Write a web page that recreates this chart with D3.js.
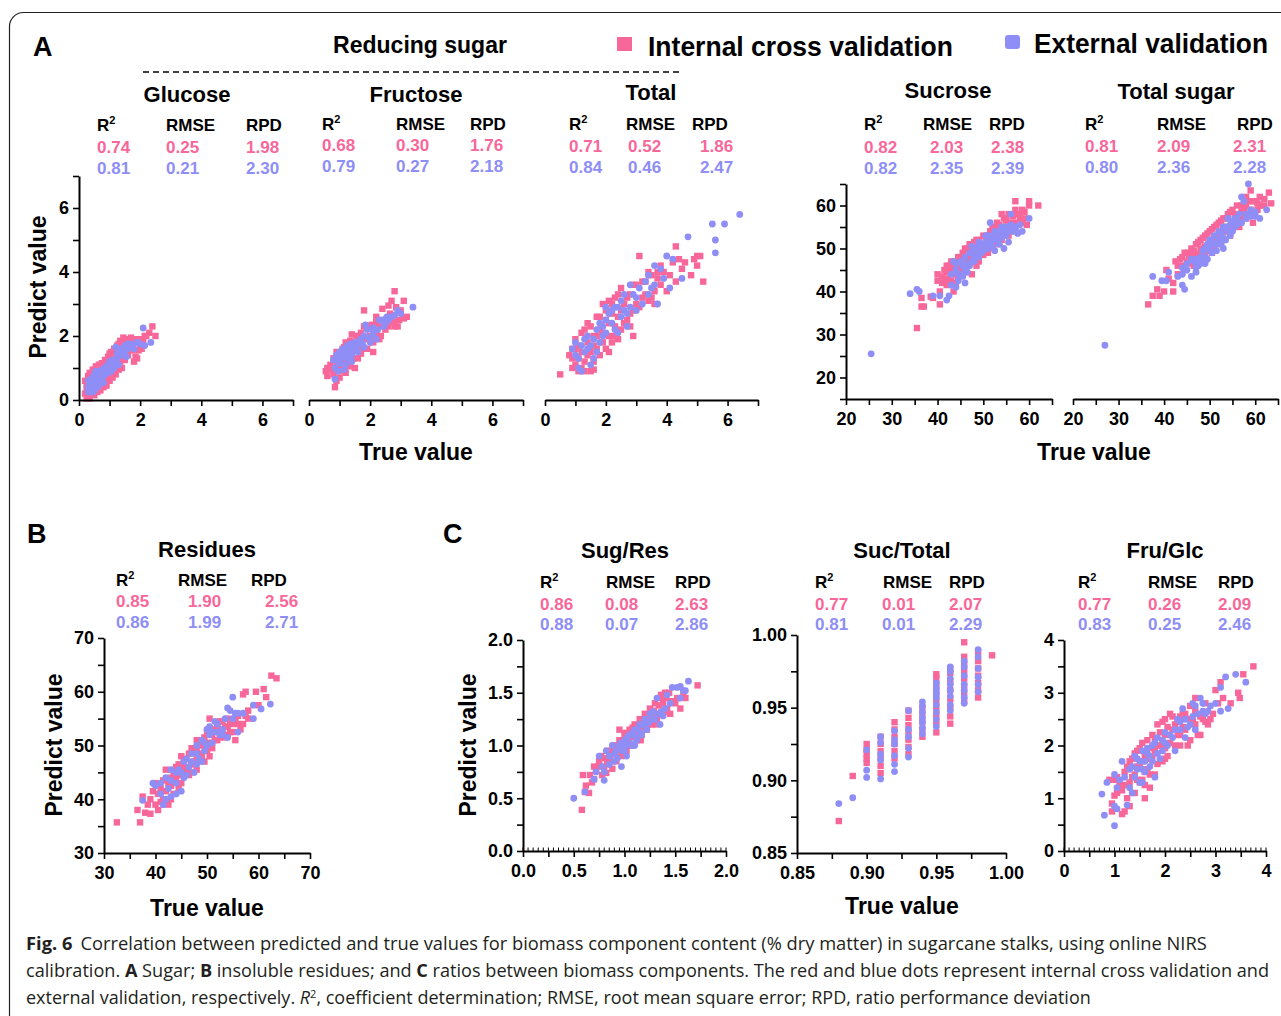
<!DOCTYPE html>
<html>
<head>
<meta charset="utf-8">
<title>Fig. 6 NIRS calibration</title>
<style>
  body { margin: 0; background: #fff; }
  svg text { font-family: "Liberation Sans", Arimo, Arial, sans-serif; }
  .axis path, .axis line { stroke: #000; }
  .axis path { stroke-width: 2; }
  .axis line { stroke-width: 1.6; }
  .axis text { font-size: 18px; font-weight: bold; fill: #000; }
</style>
</head>
<body>
<svg id="fig" width="1281" height="1016"></svg>
<script src="https://d3js.org/d3.v7.min.js"></script>
<script>
// ---- data: [true value, predicted value] ----
const glucoseInt = [[0.2,0.6],[0.25,0.35],[0.3,0.1],[0.35,0.05],[0.4,0.2],[0.5,0.9],[0.6,1.0],[0.7,1.1],[0.8,1.0],[0.9,1.2],[1.0,1.45],[1.1,1.3],[1.2,1.5],[1.3,1.75],[1.4,1.8],[1.5,1.9],[1.6,1.9],[1.7,1.95],[1.8,1.9],[1.9,1.8],[2.0,1.7],[2.1,1.85],[2.2,2.0],[2.3,2.1],[2.4,2.3],[2.5,2.0],[1.9,1.3],[1.8,1.2],[1.5,1.25],[1.3,0.95],[1.2,0.8],[1.0,0.6],[0.9,0.45],[0.8,0.4],[0.7,0.3],[0.6,0.25],[0.5,0.15],[1.1,0.7],[1.4,1.0],[1.6,1.4],[0.4,0.8],[0.3,0.55],[0.6,0.7],[0.7,0.85],[1.0,1.0],[1.2,1.15],[0.5,0.5],[0.8,0.7],[1.7,1.6],[2.0,1.9],[2.15,2.0],[0.35,0.4],
  [0.25,0.5],[0.3,0.75],[0.35,0.85],[0.45,0.95],[0.55,1.05],[0.65,1.1],[0.75,1.15],[0.85,1.25],[0.95,1.35],[1.05,1.5],[1.15,1.6],[1.25,1.7],[1.35,1.85],[1.45,1.95],[0.3,0.3],[0.4,0.45],[0.55,0.35],[0.65,0.45],[0.75,0.55],[0.85,0.6],[0.95,0.75],[1.05,0.85],[1.15,0.95],[1.25,1.05],[1.35,1.2],[1.45,1.3],[1.55,1.5],[1.65,1.6],[1.75,1.55],[1.85,1.35],[1.95,1.55],[2.05,1.6],[0.2,0.2],[0.25,0.05],[0.45,0.6],[0.6,0.55]];
const glucoseExt = [[0.3,0.4],[0.35,0.6],[0.4,0.5],[0.45,0.7],[0.5,0.8],[0.55,0.6],[0.6,0.75],[0.65,0.55],[0.7,0.9],[0.75,0.7],[0.8,0.85],[0.85,1.0],[0.9,0.95],[0.95,1.1],[1.0,1.2],[1.05,0.9],[1.1,1.25],[1.15,1.0],[1.2,1.65],[1.25,1.3],[1.3,1.1],[1.35,1.6],[1.4,1.4],[1.45,1.5],[1.5,1.7],[1.55,1.35],[1.6,1.6],[1.7,1.75],[1.8,1.6],[1.9,1.8],[2.1,2.25],[2.15,1.7],[2.35,1.8],[0.5,0.3],[0.6,0.4],[0.8,0.55],[1.3,1.4],[0.4,0.3],[0.45,0.25],[1.0,0.9],
  [0.3,0.6],[0.35,0.35],[0.4,0.65],[0.5,0.55],[0.55,0.9],[0.6,0.6],[0.65,0.8],[0.7,0.65],[0.75,0.95],[0.8,0.75],[0.85,0.8],[0.9,1.05],[0.95,0.85],[1.0,1.05],[1.1,1.1],[1.2,1.2],[1.25,1.45],[1.4,1.55],[1.5,1.45],[1.6,1.75],[1.75,1.7],[2.0,1.75],[0.5,0.45],[0.7,0.5],[0.3,0.25]];
const fructoseInt = [[0.55,0.9],[0.6,0.75],[0.7,1.1],[0.8,1.3],[0.85,0.4],[0.9,0.6],[0.9,1.5],[1.0,1.0],[1.0,0.7],[1.1,1.6],[1.1,1.2],[1.2,0.85],[1.2,1.8],[1.3,1.4],[1.3,1.05],[1.4,2.05],[1.4,1.5],[1.5,1.7],[1.5,1.0],[1.6,2.0],[1.6,1.3],[1.7,1.8],[1.8,2.3],[1.8,2.8],[1.9,1.6],[2.0,2.0],[2.0,2.3],[2.1,1.5],[2.2,2.4],[2.3,1.9],[2.4,2.85],[2.5,2.2],[2.6,2.95],[2.7,2.6],[2.7,3.1],[2.8,3.4],[2.8,2.3],[2.9,2.3],[3.0,2.8],[3.1,3.1],[3.1,2.55],[3.2,2.6],[2.5,2.5],[1.7,1.45],[2.2,2.1],[1.3,1.7],[1.0,1.3],[2.6,2.3],[1.15,1.45],
  [0.6,1.0],[0.75,0.95],[0.8,0.8],[0.9,1.1],[0.95,1.35],[1.05,1.45],[1.1,0.95],[1.15,1.65],[1.25,1.5],[1.25,1.25],[1.35,1.85],[1.35,1.2],[1.45,1.75],[1.45,1.3],[1.55,1.55],[1.55,2.0],[1.65,1.7],[1.7,2.1],[1.75,1.6],[1.9,1.9],[1.95,2.25],[2.05,2.35],[2.1,1.8],[2.2,2.6],[2.3,2.3],[2.35,2.0],[2.45,2.4],[2.55,2.55],[2.65,2.7],[2.75,2.45],[2.85,2.9],[2.95,2.5],[1.0,0.9],[1.2,1.3]];
const fructoseExt = [[0.8,1.25],[0.85,0.65],[0.9,1.4],[1.0,1.15],[1.0,1.5],[1.1,1.3],[1.1,1.6],[1.2,1.45],[1.2,1.1],[1.3,1.6],[1.3,1.3],[1.35,1.75],[1.4,1.4],[1.5,1.55],[1.5,1.8],[1.6,1.5],[1.7,1.9],[1.8,1.65],[1.85,2.35],[1.9,2.2],[2.0,1.8],[2.1,2.05],[2.2,1.9],[2.3,2.5],[2.4,2.5],[2.5,2.4],[2.6,2.5],[2.7,2.6],[2.9,2.8],[3.0,2.7],[3.4,2.9],[1.15,0.95],[1.6,1.75],[2.1,2.25],
  [0.85,1.0],[0.95,1.2],[1.05,1.35],[1.15,1.5],[1.25,1.35],[1.25,1.7],[1.35,1.5],[1.45,1.65],[1.55,1.65],[1.65,1.85],[1.75,1.75],[1.8,2.0],[1.95,1.95],[2.05,2.2],[2.25,2.2],[2.45,2.3],[2.55,2.6],[2.8,2.65],[0.95,0.9],[1.4,1.2]];
const totalInt = [[0.5,0.8],[0.8,1.4],[0.9,1.6],[1.0,1.1],[1.0,1.9],[1.1,0.9],[1.2,1.5],[1.2,2.1],[1.3,1.2],[1.3,0.9],[1.4,1.8],[1.4,2.4],[1.5,1.5],[1.6,2.0],[1.6,1.2],[1.7,2.6],[1.7,1.6],[1.8,2.2],[1.8,1.4],[1.9,3.0],[1.9,1.8],[2.0,2.5],[2.0,1.6],[2.1,3.1],[2.1,2.0],[2.2,2.7],[2.2,1.8],[2.3,3.2],[2.3,2.3],[2.4,2.6],[2.5,3.5],[2.5,2.2],[2.6,3.0],[2.7,2.5],[2.8,3.3],[2.9,2.8],[2.9,2.0],[3.0,3.6],[3.1,2.9],[3.1,4.5],[3.2,3.2],[3.3,3.7],[3.4,3.1],[3.5,3.9],[3.6,3.4],[3.7,4.0],[3.8,3.6],[3.9,4.0],[4.0,3.4],[4.3,4.8],[4.3,3.7],[4.5,4.1],[4.6,4.3],[4.8,3.9],[5.0,4.2],[5.1,4.5],[5.2,3.7],[5.0,4.5],[1.5,0.9],[2.4,1.9],[2.8,2.3],[3.6,3.0],[1.1,1.3],[0.9,1.0],
  [1.1,1.7],[1.2,1.0],[1.3,2.2],[1.4,1.4],[1.5,2.3],[1.6,1.7],[1.7,2.0],[1.8,2.6],[1.9,2.1],[2.0,2.8],[2.1,2.4],[2.2,3.0],[2.3,2.0],[2.4,3.3],[2.5,2.8],[2.6,2.4],[2.7,3.2],[2.8,2.7],[2.9,3.6],[3.0,3.0],[3.2,3.7],[3.3,3.3],[3.4,4.0],[3.5,3.2],[3.7,3.8],[3.8,4.2],[4.1,3.9],[4.2,4.3],[4.4,4.4],[4.9,4.4],[1.0,1.6],[0.9,1.3],[1.6,0.95],[2.1,1.5]];
const totalExt = [[0.9,1.6],[1.0,1.4],[1.1,1.0],[1.2,0.9],[1.3,1.5],[1.4,2.0],[1.5,1.7],[1.5,1.1],[1.6,1.3],[1.7,2.2],[1.8,1.8],[1.9,2.3],[2.0,2.1],[2.1,2.7],[2.2,2.4],[2.3,2.9],[2.4,2.1],[2.5,3.1],[2.5,2.6],[2.6,2.8],[2.7,2.3],[2.8,2.9],[2.9,3.3],[3.0,2.8],[3.2,3.0],[3.3,3.7],[3.4,3.3],[3.5,3.5],[3.6,4.2],[3.7,3.0],[3.9,3.8],[4.0,4.5],[4.1,3.5],[4.5,3.8],[4.7,5.1],[5.5,5.5],[5.9,5.5],[5.6,5.0],[5.6,4.6],[6.4,5.8],[1.3,1.9],[2.0,2.9],
  [1.0,1.8],[1.1,1.3],[1.2,1.7],[1.4,1.6],[1.6,1.9],[1.7,1.5],[1.8,2.4],[1.9,2.0],[2.0,2.5],[2.2,2.8],[2.3,2.2],[2.4,2.9],[2.6,3.3],[2.7,2.7],[2.8,3.6],[3.0,3.2],[3.1,3.5],[3.4,3.9],[3.6,3.6],[3.8,4.1],[4.2,4.4]];
const sucroseInt = [[35.5,31.5],[36.5,36.5],[37,36.5],[36.5,38.5],[38.5,38.8],[39,38.5],[40.5,37],[40.5,40],[41,42],[40,44],[40,42.5],[41.5,45],[42,43],[42.5,46],[43,44],[43.5,40],[44,47],[44.5,43],[45,48],[45.5,45],[46,50],[46.5,47],[47,51],[47.5,44],[48,49],[48.5,52],[49,47],[49.5,50],[50,53],[50.5,49],[51,51.5],[51.5,54],[52,50],[52.5,53],[53,56],[53.5,52],[54,58],[54.5,55],[55,57],[55.5,53],[56,56],[57,59],[57,61],[58,58],[58.5,56],[59,58.5],[60,60],[60,61],[62,60],[59.5,55.5],[44,45],[47,48],[50,51],[53,54],[56,55],[42,44.5],[48.5,46],[45,46.5],[51,49],[54,52],
  [41,43.5],[41.5,42.5],[42,46],[42.5,44.5],[43,47],[43.5,45.5],[44,42],[44.5,48],[45,45.5],[45.5,49],[46,46],[46.5,50],[47,47],[47.5,49.5],[48,51.5],[48.5,48],[49,52],[49.5,51],[50,48.5],[50.5,52.5],[51,53],[51.5,50.5],[52,54.5],[52.5,55],[53,52],[53.5,55.5],[54,53.5],[54.5,57],[55,55],[55.5,58],[56,54],[56.5,57.5],[57,56],[58,57],[58.5,59],[59,57],[43,42.5],[45,47.5],[47,49],[49,49],[51,52],[53,51],[55,56.5],[57.5,58],[46,44.5],[48,47.5],[50,50],[52,52],[44,44],[42,41.5]];
const sucroseExt = [[25.5,25.5],[34,39.5],[35.5,40.5],[36,40],[39,39],[40.5,39],[42,38],[42.5,39],[43,41.5],[43.5,47],[44,45],[45,44],[45.5,46],[46,42],[46,48],[47,46],[47.5,50.5],[48,48],[49,51.5],[49.5,49],[50,51],[51,50],[51.5,56],[52,52],[52.5,49.5],[53,53.5],[53.5,51],[54,55],[54.5,50],[55,53],[55.5,51.5],[56,58],[57,55],[57.5,53.5],[58.5,54],[60,57],[48,47],[50.5,53],[44.5,42.5],[46.5,44.5],
  [43,44],[44,46.5],[44.5,44],[45,47],[45.5,43.5],[46.5,46.5],[47,49],[47.5,47],[48,50],[48.5,49],[49,48],[49.5,51],[50,49.5],[50.5,51.5],[51,53],[51.5,51.5],[52,50.5],[52.5,54],[53,52],[53.5,54],[54,52.5],[54.5,54],[55,55],[55.5,54],[56,55.5],[56.5,54],[57,54.5],[58,55.5],[44,41],[46,45],[49,50.5],[52,53]];
const totalSugarInt = [[36.5,37],[37.5,39],[38.5,40.5],[39,39],[40,40],[40.5,45],[42,40],[42,42],[42.5,47],[43,46],[44,48],[44.5,45],[45,49],[45.5,47],[46,50],[46.5,46],[47,51],[47.5,48],[48,52],[48.5,47.5],[49,53],[49.5,50],[50,54],[50.5,49],[51,55],[51.5,52],[52,56],[52.5,51],[53,57],[53.5,54],[54,58],[54.5,53],[55,59],[55.5,56],[56,58],[56.5,55],[57,60],[58,62],[58.5,58],[59,63.5],[59.5,56],[60,61],[60.5,59],[61,62],[62,60],[63,63],[63.5,60.5],[58,57],[50,51],[46,48.5],[53,55],[48,50],
  [41,43],[43,44],[43.5,47.5],[44,46],[44.5,49],[45,47],[45.5,48.5],[46,46.5],[46.5,49.5],[47,48.5],[47.5,51.5],[48,49],[48.5,52.5],[49,50.5],[49.5,53.5],[50,52],[50.5,54.5],[51,50.5],[51.5,55.5],[52,53],[52.5,56.5],[53,54],[53.5,57],[54,55],[54.5,58.5],[55,56],[55.5,57.5],[56,60],[56.5,58],[57,57],[57.5,59],[58,60],[58.5,61],[59,59],[59.5,61],[60,58],[61,60],[62,61.5],[46,47],[49,49],[52,51.5],[55,54.5],[57,58.5],[60.5,60.5]];
const totalSugarExt = [[27,27.5],[37.5,43.5],[39.5,42.5],[40.5,42.5],[41,44.5],[43,43.5],[44,41.5],[44.5,40.5],[44,44],[45,46.5],[46,43.5],[46.5,47],[47,44.5],[47.5,46],[48,48],[48.5,47],[49,50],[49.5,47.5],[50,52],[50.5,49],[51,51],[51.5,49.5],[52,54],[52.5,51],[53,55],[53.5,52],[54,57],[54.5,53],[55,56],[55.5,55],[56,57],[57,62],[57.5,61],[58,58],[58.5,65],[59,59],[60,57.5],[62.5,59],[53,50],[49,46.5],
  [44,45.5],[45,45],[46,47.5],[47,47.5],[48,46.5],[48.5,49.5],[49,48],[49.5,51],[50,49.5],[50.5,51.5],[51,53],[51.5,51],[52,52],[52.5,53.5],[53,52.5],[53.5,55],[54,54],[54.5,55.5],[55,54],[55.5,57],[56,55.5],[56.5,58],[57,56],[58,57],[59,57.5],[60,58.5],[61,57],[50,50.5],[47,45.5]];
const residuesInt = [[32.5,35.7],[36.5,38],[37,35.7],[37.5,40.5],[38,37.5],[38.5,39],[39,37.3],[39.5,41.5],[40,39],[40,43],[40.5,38],[41,42],[41.5,40],[42,45.5],[42.5,39],[42.5,43],[43,44],[43.5,41],[44,46],[44.5,42],[45,48],[45,44.5],[45.5,46],[46,47.5],[46.5,44.5],[47,49.5],[47.5,47],[48,51],[48,45.5],[48.5,48.5],[49,50],[49.5,47],[50,52.5],[50,49],[50.5,55],[51,50.5],[51.5,53],[52,51],[52.5,54.5],[53,53],[53.5,51.5],[54,55],[54.5,52.5],[55,54],[55.5,51],[56,55.5],[56.5,53],[57,59.5],[57.5,60],[58,55],[59.5,60],[60,57.5],[61,60.5],[61.5,59],[62.5,63],[63.5,62.5],[44,43.5],[47,46.5],[52,52.5],[54,53.5],[46,45],
  [39,40],[40.5,41],[41,39.5],[41.5,43.5],[42,41.5],[43,42.5],[43.5,45],[44,44.5],[44.5,46.5],[45,43],[45.5,47.5],[46,46],[46.5,48.5],[47,45],[47.5,49],[48,47.5],[48.5,50.5],[49,48],[49.5,51.5],[50,50.5],[50.5,48],[51,52],[51.5,51],[52,53.5],[52.5,51.5],[53,54.5],[53.5,53.5],[54,52],[54.5,54.5],[55,52.5],[55.5,55],[56,54],[57,54],[57.5,55.5],[58,56.5],[43,40],[45,46],[48,49],[51,49.5],[53,52]];
const residuesExt = [[37.5,39.8],[39.5,43],[40,42.5],[41,41],[41.5,39],[42,44],[42.5,42],[43,45.5],[43,40.5],[44,43],[44.5,45.5],[45,41.5],[45.5,47],[46,44.5],[46.5,46],[47,48.5],[47.5,45],[48,50],[48.5,47.5],[49,51],[49.5,49],[50,53],[50.5,52],[51,50.5],[51.5,54.5],[52,52.5],[52.5,52],[53,53],[54,57],[54,51.5],[55,59],[55.5,56],[56,52.5],[57,56],[59,57.5],[59,55],[60.5,56.8],[62.3,57.7],[45.5,44],[48,46.5],
  [41,43],[42,40],[43,43.5],[44,45],[45,45],[46,47.5],[47,47],[48,48.5],[49,47],[49.5,50.5],[50,50],[50.5,53.5],[51,52.5],[52,54],[53,52],[53.5,55],[54.5,56.5],[55,55],[56,56],[44,41]];
const sugResInt = [[0.58,0.39],[0.59,0.72],[0.61,0.56],[0.62,0.62],[0.65,0.55],[0.66,0.72],[0.68,0.65],[0.7,0.8],[0.72,0.76],[0.75,0.85],[0.78,0.72],[0.8,0.88],[0.82,0.74],[0.85,0.92],[0.88,0.78],[0.9,1.0],[0.92,0.85],[0.95,1.05],[0.97,0.9],[1.0,1.1],[1.02,0.95],[1.05,1.15],[1.07,1.0],[1.1,1.2],[1.12,1.05],[1.15,1.25],[1.17,1.1],[1.2,1.3],[1.22,1.15],[1.25,1.35],[1.27,1.2],[1.3,1.4],[1.32,1.25],[1.35,1.45],[1.37,1.3],[1.4,1.5],[1.42,1.35],[1.45,1.3],[1.5,1.4],[1.55,1.35],[1.6,1.45],[1.72,1.57],[0.95,1.15],[1.05,1.0],[1.18,1.17],[1.28,1.28],[0.83,0.84],[1.13,1.12],[1.38,1.4],[0.98,1.0],
  [0.7,0.68],[0.74,0.8],[0.77,0.9],[0.8,0.8],[0.83,0.95],[0.86,0.86],[0.89,0.95],[0.91,0.92],[0.93,1.0],[0.96,0.95],[0.99,1.05],[1.01,1.12],[1.03,1.05],[1.06,1.08],[1.08,1.17],[1.11,1.1],[1.14,1.18],[1.16,1.05],[1.19,1.22],[1.21,1.25],[1.24,1.2],[1.26,1.3],[1.29,1.33],[1.31,1.2],[1.34,1.38],[1.36,1.48],[1.39,1.32],[1.41,1.45],[1.44,1.5],[1.47,1.42],[1.52,1.45],[1.58,1.5],[0.87,0.95],[1.0,0.98],[1.2,1.2]];
const sugResExt = [[0.5,0.5],[0.61,0.56],[0.7,0.68],[0.75,0.9],[0.78,0.8],[0.8,0.67],[0.82,0.95],[0.85,0.82],[0.88,1.0],[0.9,0.85],[0.92,0.95],[0.95,1.0],[0.97,0.8],[1.0,1.05],[1.02,0.9],[1.05,1.1],[1.07,1.0],[1.1,1.15],[1.12,1.05],[1.15,1.2],[1.17,1.1],[1.2,1.25],[1.22,1.15],[1.25,1.3],[1.3,1.25],[1.32,1.45],[1.35,1.2],[1.4,1.35],[1.42,1.48],[1.45,1.4],[1.52,1.55],[1.55,1.45],[1.6,1.52],[1.63,1.61],[1.58,1.52],[1.0,0.95],[1.1,1.0],
  [0.72,0.75],[0.8,0.75],[0.85,0.9],[0.9,0.92],[0.93,0.88],[0.96,1.02],[0.98,0.95],[1.01,1.0],[1.03,1.08],[1.06,1.02],[1.08,1.12],[1.11,1.08],[1.13,1.15],[1.16,1.12],[1.18,1.2],[1.21,1.18],[1.24,1.22],[1.27,1.25],[1.28,1.32],[1.33,1.3],[1.36,1.32],[1.38,1.28],[1.47,1.55],[1.55,1.56]];
const sucTotalInt = [[0.88,0.872],[0.89,0.903],[0.90,0.912],[0.90,0.915],[0.90,0.918],[0.90,0.921],[0.90,0.925],[0.91,0.905],[0.91,0.910],[0.91,0.915],[0.91,0.920],[0.91,0.925],[0.91,0.930],[0.92,0.915],[0.92,0.920],[0.92,0.925],[0.92,0.930],[0.92,0.935],[0.92,0.940],[0.93,0.918],[0.93,0.923],[0.93,0.928],[0.93,0.933],[0.93,0.938],[0.93,0.943],[0.93,0.948],[0.94,0.930],[0.94,0.935],[0.94,0.940],[0.94,0.945],[0.94,0.950],[0.95,0.933],[0.95,0.940],[0.95,0.945],[0.95,0.950],[0.95,0.955],[0.95,0.960],[0.95,0.965],[0.95,0.970],[0.95,0.973],[0.96,0.939],[0.96,0.944],[0.96,0.950],[0.96,0.956],[0.96,0.962],[0.96,0.968],[0.96,0.974],[0.96,0.977],[0.97,0.955],[0.97,0.960],[0.97,0.965],[0.97,0.970],[0.97,0.975],[0.97,0.980],[0.97,0.985],[0.97,0.995],[0.98,0.957],[0.98,0.962],[0.98,0.967],[0.98,0.972],[0.98,0.977],[0.98,0.982],[0.98,0.988],[0.99,0.986]];
const sucTotalExt = [[0.88,0.884],[0.89,0.888],[0.90,0.902],[0.90,0.907],[0.90,0.921],[0.91,0.901],[0.91,0.914],[0.91,0.918],[0.91,0.926],[0.91,0.930],[0.92,0.906],[0.92,0.911],[0.92,0.917],[0.92,0.925],[0.92,0.928],[0.92,0.934],[0.93,0.916],[0.93,0.922],[0.93,0.930],[0.93,0.935],[0.93,0.948],[0.94,0.932],[0.94,0.936],[0.94,0.940],[0.94,0.943],[0.94,0.947],[0.94,0.951],[0.94,0.954],[0.95,0.937],[0.95,0.942],[0.95,0.947],[0.95,0.952],[0.95,0.957],[0.95,0.960],[0.95,0.963],[0.95,0.967],[0.96,0.948],[0.96,0.952],[0.96,0.958],[0.96,0.962],[0.96,0.966],[0.96,0.970],[0.96,0.975],[0.96,0.978],[0.97,0.953],[0.97,0.957],[0.97,0.962],[0.97,0.966],[0.97,0.972],[0.97,0.978],[0.97,0.982],[0.98,0.961],[0.98,0.966],[0.98,0.971],[0.98,0.977],[0.98,0.985],[0.98,0.990]];
const fruGlcInt = [[0.9,1.35],[0.95,0.9],[0.95,0.75],[1.0,1.35],[1.0,1.05],[1.05,1.1],[1.1,1.3],[1.15,0.7],[1.2,0.75],[1.2,1.5],[1.25,1.0],[1.3,1.7],[1.3,0.85],[1.35,1.4],[1.4,1.85],[1.4,1.1],[1.45,1.6],[1.5,1.3],[1.5,1.95],[1.55,1.7],[1.6,1.0],[1.6,1.5],[1.65,2.1],[1.7,1.75],[1.7,1.2],[1.75,2.2],[1.8,1.9],[1.8,1.45],[1.85,2.4],[1.9,2.0],[1.95,1.7],[2.0,2.5],[2.0,2.2],[2.05,1.8],[2.1,2.6],[2.15,2.3],[2.2,2.0],[2.25,2.45],[2.3,2.2],[2.35,2.6],[2.4,2.3],[2.5,2.75],[2.5,2.1],[2.6,2.9],[2.6,2.4],[2.7,2.2],[2.75,2.5],[2.8,2.45],[2.9,2.5],[3.0,3.05],[3.05,2.8],[3.1,3.2],[3.15,2.9],[3.3,2.8],[3.45,3.0],[3.48,2.9],[3.55,3.35],[3.75,3.5],[1.1,1.2],[1.55,1.35],[1.85,1.65],[2.45,2.0],
  [1.05,1.4],[1.15,1.15],[1.2,1.25],[1.25,1.6],[1.3,1.3],[1.35,1.75],[1.4,1.45],[1.45,1.9],[1.5,1.6],[1.55,2.05],[1.6,1.8],[1.65,1.55],[1.7,1.95],[1.75,1.8],[1.8,2.1],[1.85,2.0],[1.9,2.25],[1.95,2.45],[2.0,1.95],[2.05,2.35],[2.1,2.05],[2.15,2.55],[2.2,2.4],[2.25,2.2],[2.3,2.55],[2.35,2.35],[2.4,2.6],[2.45,2.5],[2.55,2.45],[2.6,2.65],[2.7,2.55],[2.8,2.8],[2.85,2.4],[2.95,2.6],[1.45,1.35],[1.6,1.25],[1.7,1.45],[2.0,1.75],[2.3,2.0],[2.65,2.2]];
const fruGlcExt = [[0.75,1.08],[0.8,0.68],[0.85,1.3],[1.0,0.48],[1.0,1.45],[1.0,0.85],[1.05,0.8],[1.05,1.2],[1.1,1.35],[1.15,1.7],[1.25,0.87],[1.3,1.55],[1.35,1.1],[1.4,1.8],[1.45,1.55],[1.5,1.3],[1.5,1.7],[1.55,1.9],[1.6,1.5],[1.65,1.85],[1.7,1.6],[1.75,2.0],[1.8,1.4],[1.85,2.15],[1.9,1.75],[1.95,2.1],[2.0,2.05],[2.1,2.2],[2.2,1.9],[2.25,2.5],[2.3,2.3],[2.35,2.7],[2.4,2.15],[2.5,2.4],[2.55,2.8],[2.6,2.3],[2.65,2.6],[2.7,2.9],[2.75,2.65],[2.8,2.6],[2.9,2.75],[3.0,2.8],[3.1,3.1],[3.1,2.65],[3.25,2.7],[3.2,3.3],[3.4,3.35],[3.6,3.2],[1.4,1.4],
  [1.2,1.4],[1.3,1.2],[1.35,1.6],[1.45,1.75],[1.55,1.55],[1.6,1.7],[1.65,1.95],[1.7,1.8],[1.75,1.7],[1.8,2.05],[1.85,1.85],[1.95,1.9],[2.0,2.25],[2.05,2.0],[2.15,2.15],[2.2,2.3],[2.3,2.45],[2.4,2.5],[2.45,2.35],[2.55,2.55],[2.6,2.75],[2.75,2.8],[2.85,2.65],[1.55,1.3]];

// stats: [internal row, external row] as R2, RMSE, RPD
const glucoseStats = [["0.74","0.25","1.98"],["0.81","0.21","2.30"]];
const fructoseStats = [["0.68","0.30","1.76"],["0.79","0.27","2.18"]];
const totalStats = [["0.71","0.52","1.86"],["0.84","0.46","2.47"]];
const sucroseStats = [["0.82","2.03","2.38"],["0.82","2.35","2.39"]];
const totalSugarStats = [["0.81","2.09","2.31"],["0.80","2.36","2.28"]];
const residuesStats = [["0.85","1.90","2.56"],["0.86","1.99","2.71"]];
const sugResStats = [["0.86","0.08","2.63"],["0.88","0.07","2.86"]];
const sucTotalStats = [["0.77","0.01","2.07"],["0.81","0.01","2.29"]];
const fruGlcStats = [["0.77","0.26","2.09"],["0.83","0.25","2.46"]];

const seriesNames = ["Internal cross validation", "External validation"];
const PINK = "#f7679a", BLUE = "#8e8ef6";

const svg = d3.select("#fig");

// frame round the figure
svg.append("rect").attr("x", 9.5).attr("y", 12.5).attr("width", 1400).attr("height", 1100)
  .attr("rx", 14).attr("fill", "none").attr("stroke", "#222").attr("stroke-width", 1.2);

const panels = [
  {title: "Glucose", tx: 187, ty: 102, x0: 79, x1: 293, yT: 176, yB: 400, xd: [0, 7], yd: [0, 7], step: 1, lab: 2, fmt: "d", showY: true,
   cols: [97, 166, 246], vcols: [97, 166, 246], rows: [131, 153, 174], int: glucoseInt, ext: glucoseExt, stats: glucoseStats},
  {title: "Fructose", tx: 416, ty: 102, x0: 309, x1: 523, yT: 176, yB: 400, xd: [0, 7], yd: [0, 7], step: 1, lab: 2, fmt: "d", showY: false,
   cols: [322, 396, 470], vcols: [322, 396, 470], rows: [130, 151, 172], int: fructoseInt, ext: fructoseExt, stats: fructoseStats},
  {title: "Total", tx: 651, ty: 100, x0: 545, x1: 758, yT: 176, yB: 400, xd: [0, 7], yd: [0, 7], step: 1, lab: 2, fmt: "d", showY: false,
   cols: [569, 626, 692], vcols: [569, 628, 700], rows: [130, 152, 173], int: totalInt, ext: totalExt, stats: totalStats},
  {title: "Sucrose", tx: 948, ty: 98, x0: 846, x1: 1052, yT: 184, yB: 399, xd: [20, 65], yd: [15, 65], step: 5, lab: 10, fmt: "d", showY: true,
   cols: [864, 923, 989], vcols: [864, 930, 991], rows: [130, 153, 174], int: sucroseInt, ext: sucroseExt, stats: sucroseStats},
  {title: "Total sugar", tx: 1176, ty: 99, x0: 1073, x1: 1278, yT: 184, yB: 399, xd: [20, 65], yd: [15, 65], step: 5, lab: 10, fmt: "d", showY: false,
   cols: [1085, 1157, 1237], vcols: [1085, 1157, 1233], rows: [130, 152, 173], int: totalSugarInt, ext: totalSugarExt, stats: totalSugarStats},
  {title: "Residues", tx: 207, ty: 557, x0: 104, x1: 310, yT: 638, yB: 853, xd: [30, 70], yd: [30, 70], step: 5, lab: 10, fmt: "d", showY: true,
   cols: [116, 178, 251], vcols: [116, 188, 265], rows: [586, 607, 628], int: residuesInt, ext: residuesExt, stats: residuesStats},
  {title: "Sug/Res", tx: 625, ty: 558, x0: 523, x1: 726, yT: 640, yB: 851, xd: [0, 2], yd: [0, 2], step: 0.25, lab: 0.5, fmt: ".1f", showY: true, fine: 0.05,
   cols: [540, 606, 675], vcols: [540, 605, 675], rows: [588, 610, 630], int: sugResInt, ext: sugResExt, stats: sugResStats},
  {title: "Suc/Total", tx: 902, ty: 558, x0: 797, x1: 1006, yT: 635, yB: 853, xd: [0.85, 1.0], yd: [0.85, 1.0], step: 0.025, lab: 0.05, fmt: ".2f", showY: true,
   cols: [815, 883, 949], vcols: [815, 882, 949], rows: [588, 610, 630], int: sucTotalInt, ext: sucTotalExt, stats: sucTotalStats},
  {title: "Fru/Glc", tx: 1165, ty: 558, x0: 1064, x1: 1266, yT: 640, yB: 851, xd: [0, 4], yd: [0, 4], step: 0.5, lab: 1, fmt: "d", showY: true, fine: 0.1,
   cols: [1078, 1148, 1218], vcols: [1078, 1148, 1218], rows: [588, 610, 630], int: fruGlcInt, ext: fruGlcExt, stats: fruGlcStats}
];

function tickVals(dom, step) {
  const n = Math.round((dom[1] - dom[0]) / step);
  return d3.range(n + 1).map(i => +(dom[0] + i * step).toFixed(4));
}
function isLabel(v, lab) {
  const r = v / lab;
  return Math.abs(r - Math.round(r)) < 1e-6;
}

panels.forEach(p => {
  const x = d3.scaleLinear().domain(p.xd).range([p.x0, p.x1]);
  const y = d3.scaleLinear().domain(p.yd).range([p.yB, p.yT]);
  const f = d3.format(p.fmt);

  // title
  svg.append("text").attr("x", p.tx).attr("y", p.ty).attr("text-anchor", "middle")
    .style("font-size", "22px").style("font-weight", "bold").text(p.title);

  // stats block
  const hdr = ["R", "RMSE", "RPD"];
  hdr.forEach((h, i) => {
    const t = svg.append("text").attr("x", p.cols[i]).attr("y", p.rows[0])
      .style("font-size", "17px").style("font-weight", "bold").text(h);
    if (i === 0) t.append("tspan").attr("dy", -7).style("font-size", "11px").text("2");
  });
  p.stats.forEach((row, r) => {
    row.forEach((v, i) => {
      svg.append("text").attr("x", p.vcols[i]).attr("y", p.rows[r + 1])
        .style("font-size", "17px").style("font-weight", "bold")
        .attr("fill", r === 0 ? PINK : BLUE).text(v);
    });
  });

  // fine ticks along the x axis line
  if (p.fine) {
    svg.append("g").selectAll("line").data(tickVals(p.xd, p.fine)).join("line")
      .attr("x1", d => x(d)).attr("x2", d => x(d))
      .attr("y1", p.yB).attr("y2", p.yB - 3.5)
      .attr("stroke", "#000").attr("stroke-width", 1);
  }

  // points: internal (squares) then external (circles)
  const g = svg.append("g");
  g.selectAll("rect.pt").data(p.int).join("rect").attr("class", "pt")
    .attr("x", d => x(d[0]) - 3.2).attr("y", d => y(d[1]) - 3.2)
    .attr("width", 6.4).attr("height", 6.4).attr("fill", PINK);
  g.selectAll("circle.pt").data(p.ext).join("circle").attr("class", "pt")
    .attr("cx", d => x(d[0])).attr("cy", d => y(d[1])).attr("r", 3.4).attr("fill", BLUE);

  // axes
  const xt = tickVals(p.xd, p.step);
  svg.append("g").attr("class", "axis").attr("transform", `translate(0,${p.yB})`)
    .call(d3.axisBottom(x).tickValues(xt).tickSize(6).tickSizeOuter(0).tickPadding(7)
      .tickFormat(v => isLabel(v, p.lab) ? f(v) : ""));
  if (p.showY) {
    const yt = tickVals(p.yd, p.step);
    svg.append("g").attr("class", "axis").attr("transform", `translate(${p.x0},0)`)
      .call(d3.axisLeft(y).tickValues(yt).tickSize(6).tickSizeOuter(0).tickPadding(4)
        .tickFormat(v => isLabel(v, p.lab) ? f(v) : ""));
  }
});

// axis titles
function bold(x, y, txt, size, rot) {
  const t = svg.append("text").attr("text-anchor", "middle")
    .style("font-size", size + "px").style("font-weight", "bold").text(txt);
  t.attr("transform", rot ? `translate(${x},${y}) rotate(-90)` : `translate(${x},${y})`);
  return t;
}
bold(46, 287, "Predict value", 23, true);
bold(62, 745, "Predict value", 23, true);
bold(476, 745, "Predict value", 23, true);
bold(416, 460, "True value", 23);
bold(1094, 460, "True value", 23);
bold(207, 916, "True value", 23);
bold(902, 914, "True value", 23);

// panel letters
[["A", 33, 56], ["B", 27, 543], ["C", 443, 543]].forEach(d => {
  svg.append("text").attr("x", d[1]).attr("y", d[2])
    .style("font-size", "27px").style("font-weight", "bold").text(d[0]);
});

// group title and dashed rule
bold(420, 53, "Reducing sugar", 23);
svg.append("line").attr("x1", 143).attr("x2", 680).attr("y1", 72).attr("y2", 72)
  .attr("stroke", "#000").attr("stroke-width", 1.6).attr("stroke-dasharray", "6,4");

// squeeze a text to a target width
function squeeze(t, x, y, target) {
  const w = t.node().getBBox().width;
  t.attr("transform", `translate(${x},${y}) scale(${target / w},1)`);
}

// legend
svg.append("rect").attr("x", 617).attr("y", 37).attr("width", 15).attr("height", 14).attr("fill", PINK);
svg.append("rect").attr("x", 1005).attr("y", 35).attr("width", 15).attr("height", 14).attr("rx", 3).attr("fill", BLUE);
const l1 = svg.append("text").style("font-size", "27px").style("font-weight", "bold").text(seriesNames[0]);
squeeze(l1, 648, 56, 305);
const l2 = svg.append("text").style("font-size", "27px").style("font-weight", "bold").text(seriesNames[1]);
squeeze(l2, 1034, 53, 234);

// caption
const capFont = '"Liberation Sans Narrow", "Open Sans", sans-serif';
const c1 = svg.append("text").style("font-family", capFont).style("font-size", "18px").attr("fill", "#231f20");
c1.append("tspan").style("font-weight", "bold").text("Fig. 6");
c1.append("tspan").attr("dx", 8).text("Correlation between predicted and true values for biomass component content (% dry matter) in sugarcane stalks, using online NIRS");
squeeze(c1, 26, 950, 1182);

const c2 = svg.append("text").style("font-family", capFont).style("font-size", "18px").attr("fill", "#231f20");
c2.append("tspan").text("calibration. ");
c2.append("tspan").style("font-weight", "bold").text("A");
c2.append("tspan").text(" Sugar; ");
c2.append("tspan").style("font-weight", "bold").text("B");
c2.append("tspan").text(" insoluble residues; and ");
c2.append("tspan").style("font-weight", "bold").text("C");
c2.append("tspan").text(" ratios between biomass components. The red and blue dots represent internal cross validation and");
squeeze(c2, 26, 977, 1244);

const c3 = svg.append("text").style("font-family", capFont).style("font-size", "18px").attr("fill", "#231f20");
c3.append("tspan").text("external validation, respectively. ");
c3.append("tspan").style("font-style", "italic").text("R");
c3.append("tspan").attr("dy", -6).style("font-size", "11px").text("2");
c3.append("tspan").attr("dy", 6).text(", coefficient determination; RMSE, root mean square error; RPD, ratio performance deviation");
squeeze(c3, 26, 1004, 1065);
</script>
</body>
</html>
